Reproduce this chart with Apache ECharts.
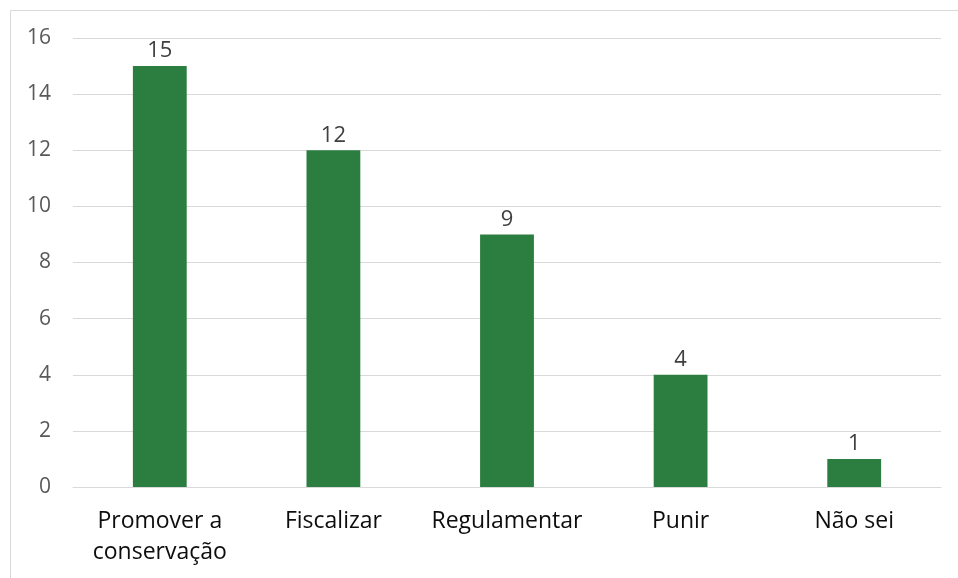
<!DOCTYPE html>
<html><head><meta charset="utf-8">
<script src="https://cdn.jsdelivr.net/npm/echarts@6/dist/echarts.min.js"></script>
<style>html,body{margin:0;padding:0;background:#fff}#c{width:958px;height:578px}</style>
</head><body><div id="c"></div>
<script>
const categories = ['Promover a\nconservação', 'Fiscalizar', 'Regulamentar', 'Punir', 'Não sei'];
const values = [15, 12, 9, 4, 1];
const yTicks = {min: 0, max: 16, interval: 2};

const chart = echarts.init(document.getElementById('c'), null, {renderer: 'canvas'});
chart.setOption({
  animation: false,
  backgroundColor: '#fff',
  graphic: [{type: 'rect', shape: {x: 10.5, y: 10.5, width: 1000, height: 700}, style: {fill: 'none', stroke: '#d9d9d9', lineWidth: 1}, silent: true}],
  grid: {left: 73, right: 17, top: 38, bottom: 91},
  xAxis: {
    type: 'category', data: categories,
    axisLine: {show: true, lineStyle: {color: '#d9d9d9', width: 1}},
    axisTick: {show: false},
    axisLabel: {color: '#0d0d0d', fontFamily: 'Open Sans', fontSize: 23, margin: 19, lineHeight: 31, interval: 0}
  },
  yAxis: {
    type: 'value', min: yTicks.min, max: yTicks.max, interval: yTicks.interval,
    axisLine: {show: false}, axisTick: {show: false},
    splitLine: {lineStyle: {color: '#d9d9d9', width: 1}},
    axisLabel: {color: '#595959', fontFamily: 'Open Sans', fontSize: 21, margin: 22}
  },
  series: [{
    type: 'bar', data: values, barWidth: '31%',
    itemStyle: {color: '#2b7e3f'},
    label: {show: true, position: 'top', color: '#404040', fontFamily: 'Open Sans', fontSize: 22, distance: 4}
  }]
});
</script></body></html>
